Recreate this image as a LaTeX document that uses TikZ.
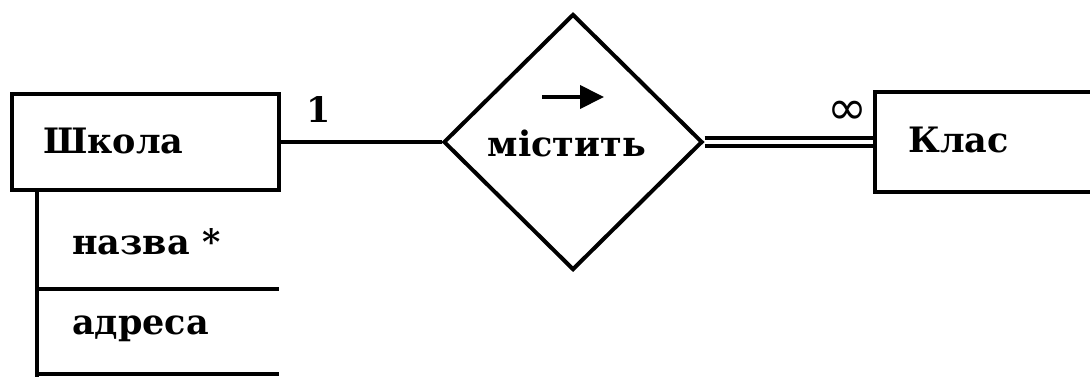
\documentclass[tikz,border=0pt]{standalone}
\usepackage{fontspec}
\setmainfont{DejaVu Serif}
\newfontfamily\symfnt{DejaVu Sans}
\usetikzlibrary{shapes.geometric,arrows.meta}
\tikzset{
  lw/.style={line width=4pt},
  ent/.style={draw,lw,rectangle,inner sep=0pt},
  lbl/.style={inner sep=0pt,anchor=west,font=\bfseries\fontsize{35}{40}\selectfont},
  card/.style={inner sep=0pt,font=\bfseries\fontsize{35}{40}\selectfont},
}
\begin{document}
\begin{tikzpicture}[x=1pt,y=-1pt]
\clip (0,0) rectangle (1090,376);
\fill[white] (0,0) rectangle (1090,376);
% School entity
\node[ent,minimum width=267pt,minimum height=96pt] (school) at (145.5,142) {};
\node[lbl] (schooltxt) at (43,141) {Школа};
% attributes
\coordinate (a0) at (37,190);
\coordinate (a1) at (37,289);
\coordinate (a2) at (37,374);
\coordinate (a3) at (37,380);
\draw[lw] (a0) -- (a3);
\draw[lw] (a1) -- (279,289);
\draw[lw] (a2) -- (279,374);
\node[lbl] (attr1) at (72,242) {назва *};
\node[lbl] (attr2) at (72,329) {адреса};
% relationship
\node[draw,lw,diamond,minimum width=259pt,minimum height=256pt,inner sep=0pt] (rel) at (573,142) {};
\node[card] (reltxt) at (567,143) {містить};
\coordinate (arrS) at (542,97);
\coordinate (arrE) at (604,97);
\draw[lw,-{Triangle[length=24pt,width=23pt]}] (arrS) -- (arrE);
% Class entity
\node[ent,minimum width=240pt,minimum height=100pt] (klas) at (995,142) {};
\node[lbl] (klastxt) at (908,140) {Клас};
% connectors
\draw[lw] (school.east) -- (rel.west);
\draw[line width=3.5pt,double,double distance=4.5pt] (rel.east) -- (klas.west);
% cardinalities
\node[card] (one) at (319,110) {1};
\node[inner sep=0pt,font=\symfnt\fontsize{48}{52}\selectfont] (many) at (847,113) {∞};
\end{tikzpicture}
\end{document}
